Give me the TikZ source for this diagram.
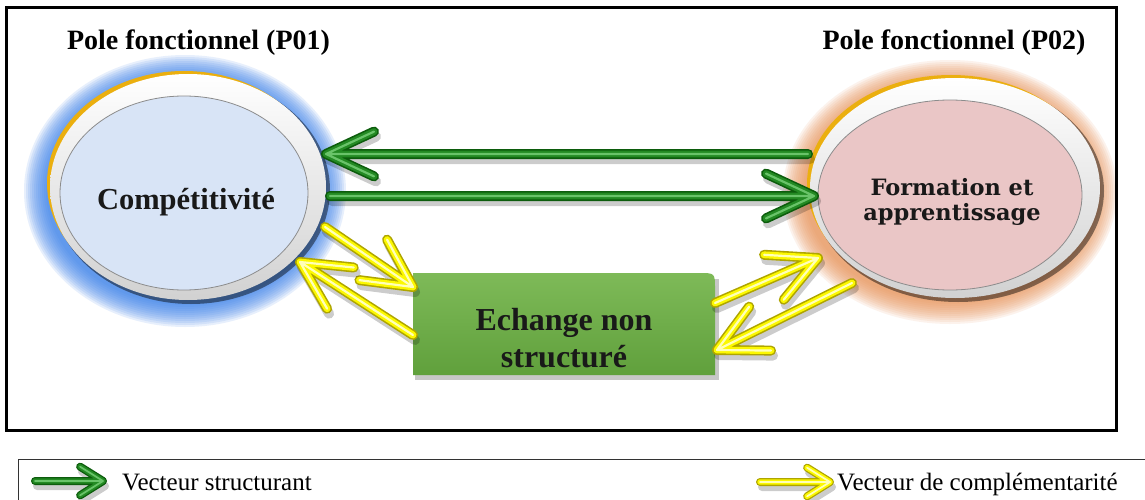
\documentclass[tikz,border=0pt]{standalone}
\usepackage{fontspec}
\setmainfont{Liberation Serif}
\newfontfamily\slabfont{DejaVu Serif}
\usetikzlibrary{calc,shapes.geometric}
\definecolor{glowblue}{RGB}{60,130,235}
\definecolor{gloworange}{RGB}{232,145,85}
\definecolor{rimgold}{RGB}{235,175,15}
\definecolor{innerblue}{RGB}{216,228,246}
\definecolor{innerpink}{RGB}{234,198,198}
\definecolor{boxtop}{RGB}{126,186,88}
\definecolor{boxbot}{RGB}{96,160,60}
\definecolor{gdark}{RGB}{12,92,12}
\definecolor{gmid}{RGB}{35,138,35}
\definecolor{glight}{RGB}{105,195,105}
\definecolor{ydark}{RGB}{175,165,0}
\definecolor{ymid}{RGB}{252,248,0}
\definecolor{ylight}{RGB}{255,255,185}
\tikzset{
  tube/.style={line cap=round, line join=round},
  oval/.style={ellipse, inner sep=0pt, outer sep=0pt},
  titletext/.style={font=\bfseries\fontsize{28}{32}\selectfont, anchor=base, inner sep=0pt},
  legendtext/.style={font=\fontsize{25}{30}\selectfont, anchor=base west, inner sep=0pt},
}
% #1 start, #2 tip, #3 arm length, #4 arm angle, #5 width, #6 dark, #7 mid, #8 light
\newcommand\tubearrow[8]{%
  \path ($(#2)!#3!#4:(#1)$) coordinate (ta1) ($(#2)!#3!-#4:(#1)$) coordinate (ta2);
  \draw[tube, black, opacity=.2, line width=#5, transform canvas={shift={(2pt,-5pt)}}] (#1) -- (#2) (ta1) -- (#2) -- (ta2);
  \draw[tube, #6, line width=#5] (#1) -- (#2) (ta1) -- (#2) -- (ta2);
  \draw[tube, #7, line width=0.68*#5] (#1) -- (#2) (ta1) -- (#2) -- (ta2);
  \draw[tube, #8, line width=0.22*#5] (#1) -- (#2) (ta1) -- (#2) -- (ta2);
}
\begin{document}
\begin{tikzpicture}[x=1pt,y=-1pt]
\useasboundingbox (0,0) rectangle (1145,500);
\fill[white] (0,0) rectangle (1145,500);

% anchor nodes
\node[oval, minimum width=280pt, minimum height=230pt] (L) at (188,187) {};
\node[oval, minimum width=294pt, minimum height=224pt] (R) at (955,188) {};
\node[rectangle, minimum width=302pt, minimum height=102pt, inner sep=0pt, outer sep=0pt] (B) at (564,324) {};

% glows
\foreach \k in {0,...,11}{
  \fill[glowblue, opacity=0.12] ($(L)+(-3,4)$) ellipse [x radius=161-2*\k, y radius=136-2*\k];
  \fill[gloworange, opacity=0.11] ($(R)+(-5,4)$) ellipse [x radius=167-2*\k, y radius=132-2*\k];
}

% left oval
\fill[black, opacity=.45] ($(L)+(3,3)$) ellipse [x radius=139, y radius=114];
\fill[rimgold] ($(L)+(-4,-4)$) ellipse [x radius=137, y radius=112];
\shade[top color=white, bottom color=black!18] (L) ellipse [x radius=138, y radius=113];
\fill[innerblue] ($(L)+(-4,6)$) ellipse [x radius=124, y radius=97];
\draw[black!45, line width=0.8pt] ($(L)+(-4,6)$) ellipse [x radius=124, y radius=97];

% right oval
\fill[black, opacity=.45] ($(R)+(3,3)$) ellipse [x radius=146, y radius=111];
\fill[rimgold] ($(R)+(-4,-4)$) ellipse [x radius=144, y radius=109];
\shade[top color=white, bottom color=black!18] (R) ellipse [x radius=145, y radius=110];
\fill[innerpink] ($(R)+(-5,7)$) ellipse [x radius=132, y radius=95];
\draw[black!45, line width=0.8pt] ($(R)+(-5,7)$) ellipse [x radius=132, y radius=95];

% box
\fill[black, opacity=.22] ($(B.north west)+(2,6)$) rectangle ($(B.south east)+(4,5)$);
\shade[top color=boxtop, bottom color=boxbot] (B.south west) -- (B.north west) -- ($(B.north east)+(-16,0)$) .. controls (B.north east) .. ($(B.north east)+(0,16)$) -- (B.south east) -- cycle;

% frame
\draw[line width=3pt] (6.5,8) rectangle (1116.5,430.5);

% texts
\node[titletext] (T1) at (198.5,50) {Pole fonctionnel (P01)};
\node[titletext] (T2) at (954,50) {Pole fonctionnel (P02)};
\node[font=\bfseries\fontsize{30.5}{34}\selectfont, anchor=base, inner sep=0pt, text=black!90] (Lt) at (186,209) {Compétitivité};
\node[font=\slabfont\bfseries\fontsize{22.5}{25}\selectfont, align=center, inner sep=0pt, text=black!90] (Rt) at (952,202) {Formation et\\apprentissage};
\node[font=\bfseries\fontsize{32}{37}\selectfont, align=center, inner sep=0pt, text=black!90] (Bt) at (564,338) {Echange non\\structuré};

% connector end points
\coordinate (g1s) at ($(R)+(-147,-34)$);
\coordinate (g1e) at ($(L)+(138,-33)$);
\coordinate (g2s) at ($(L)+(142,9)$);
\coordinate (g2e) at ($(R)+(-141,8)$);
\coordinate (y1s) at ($(L)+(137,40)$);
\coordinate (y1e) at ($(B.north west)+(0,14)$);
\coordinate (y2s) at ($(B.west)+(0,11)$);
\coordinate (y2e) at ($(L)+(112,75)$);
\coordinate (y3s) at ($(B.east)+(0,-21)$);
\coordinate (y3e) at ($(R)+(-137,70)$);
\coordinate (y4s) at ($(R)+(-103,95)$);
\coordinate (y4e) at ($(B.east)+(2,26)$);

% structuring vectors (green)
\tubearrow{g1s}{g1e}{53pt}{25}{10pt}{gdark}{gmid}{glight}
\tubearrow{g2s}{g2e}{53pt}{25}{10pt}{gdark}{gmid}{glight}
% complementarity vectors (yellow)
\tubearrow{y1s}{y1e}{54pt}{27}{10pt}{ydark}{ymid}{ylight}
\tubearrow{y2s}{y2e}{54pt}{27}{10pt}{ydark}{ymid}{ylight}
\tubearrow{y3s}{y3e}{54pt}{27}{10pt}{ydark}{ymid}{ylight}
\tubearrow{y4s}{y4e}{54pt}{27}{10pt}{ydark}{ymid}{ylight}

% legend
\draw[line width=1pt, black!80] (1145,459) -- (18,459) -- (18,500);
\coordinate (lg1s) at (35,481);
\coordinate (lg1e) at (103,481);
\coordinate (ly1s) at (760,482);
\coordinate (ly1e) at (830,482);
\tubearrow{lg1s}{lg1e}{27pt}{32}{8pt}{gdark}{gmid}{glight}
\tubearrow{ly1s}{ly1e}{27pt}{32}{8pt}{ydark}{ymid}{ylight}
\node[legendtext] (LT1) at (122,490) {Vecteur structurant};
\node[legendtext] (LT2) at (837,490) {Vecteur de complémentarité};
\end{tikzpicture}
\end{document}
